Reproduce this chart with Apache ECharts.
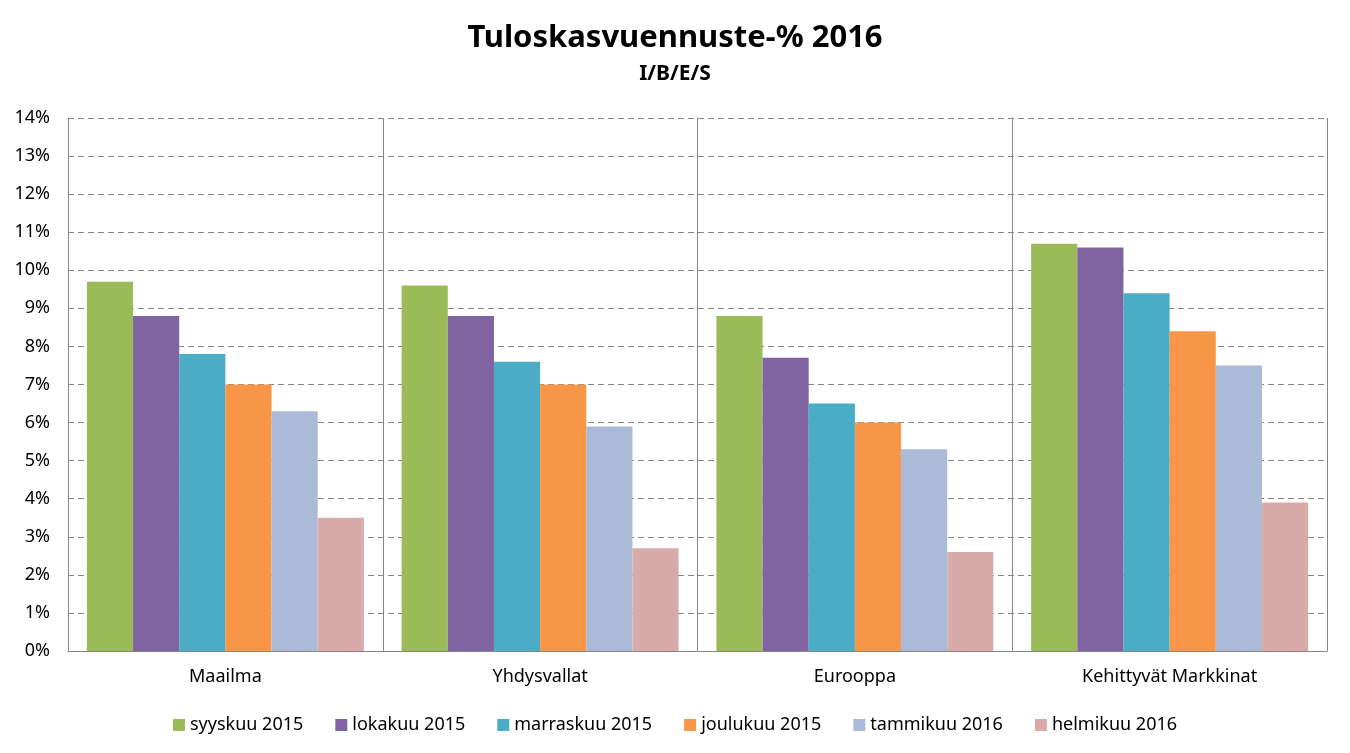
<!DOCTYPE html>
<html>
<head>
<meta charset="utf-8">
<script src="https://cdn.jsdelivr.net/npm/echarts@6/dist/echarts.min.js"></script>
<style>
  html, body { margin: 0; padding: 0; background: #fff; }
  #chart { width: 1350px; height: 753px; }
</style>
</head>
<body>
<div id="chart"></div>
<script>
const categories = ['Maailma', 'Yhdysvallat', 'Eurooppa', 'Kehittyvät Markkinat']
const seriesNames = ['syyskuu 2015', 'lokakuu 2015', 'marraskuu 2015', 'joulukuu 2015', 'tammikuu 2016', 'helmikuu 2016']
const syyskuu2015 = [9.7, 9.6, 8.8, 10.7]
const lokakuu2015 = [8.8, 8.8, 7.7, 10.6]
const marraskuu2015 = [7.8, 7.6, 6.5, 9.4]
const joulukuu2015 = [7.0, 7.0, 6.0, 8.4]
const tammikuu2016 = [6.3, 5.9, 5.3, 7.5]
const helmikuu2016 = [3.5, 2.7, 2.6, 3.9]
const seriesValues = [syyskuu2015, lokakuu2015, marraskuu2015, joulukuu2015, tammikuu2016, helmikuu2016]
const COLORS = ['#9bbb59', '#8064a2', '#4bacc6', '#f79646', '#aabad7', '#d9aaaa']

const FONT = '"Noto Sans", sans-serif'
const chart = echarts.init(document.getElementById('chart'))

chart.setOption({
  animation: false,
  title: {
    text: 'Tuloskasvuennuste-% 2016',
    subtext: 'I/B/E/S',
    left: 'center', top: 18, itemGap: 10,
    textStyle: { fontFamily: FONT, fontSize: 31, fontWeight: 'bold', color: '#000' },
    subtextStyle: { fontFamily: FONT, fontSize: 21, fontWeight: 'bold', color: '#000' },
  },
  legend: {
    bottom: 14, left: 'center',
    itemWidth: 12, itemHeight: 12, itemGap: 32,
    icon: 'rect',
    textStyle: { fontFamily: FONT, fontSize: 18, color: '#000' },
    data: seriesNames,
  },
  grid: { left: 68, right: 23, top: 118, bottom: 102 },
  xAxis: {
    type: 'category',
    data: categories,
    axisLine: { lineStyle: { color: '#868686', width: 1 } },
    axisTick: { show: false },
    axisLabel: { fontFamily: FONT, fontSize: 18, color: '#000', margin: 17 },
    splitLine: { show: true, lineStyle: { color: '#868686', width: 1 } },
  },
  yAxis: {
    type: 'value', min: 0, max: 14, interval: 1,
    axisLine: { show: true, lineStyle: { color: '#868686', width: 1 } },
    axisTick: { show: false },
    axisLabel: { fontFamily: FONT, fontSize: 18, color: '#000', margin: 18, formatter: '{value}%' },
    splitLine: { lineStyle: { color: '#868686', type: [6, 4], width: 1 } },
  },
  series: seriesNames.map((name, i) => ({
    name, type: 'bar',
    data: seriesValues[i],
    itemStyle: { color: COLORS[i] },
    barGap: '0%', barCategoryGap: '12%',
  })),
})
</script>
</body>
</html>
